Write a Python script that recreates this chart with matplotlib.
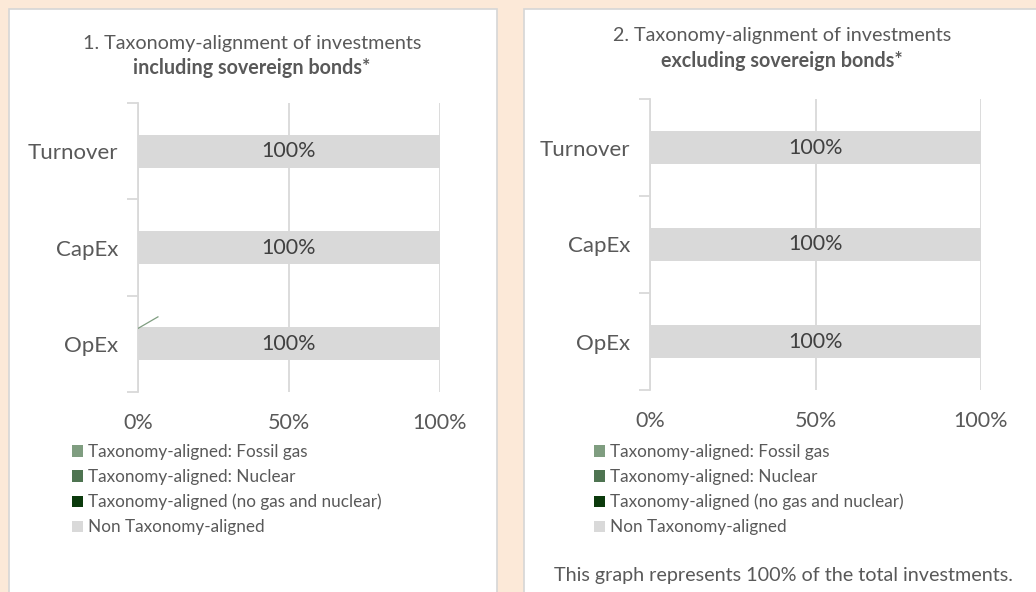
import matplotlib
matplotlib.use("Agg")
import matplotlib.pyplot as plt
from matplotlib.patches import Rectangle, Patch
import numpy as np

plt.rcParams['font.family'] = ['Lato', 'DejaVu Sans']

categories = ["Turnover", "CapEx", "OpEx"]
series_names = ["Taxonomy-aligned: Fossil gas", "Taxonomy-aligned: Nuclear",
                "Taxonomy-aligned (no gas and nuclear)", "Non Taxonomy-aligned"]
series_colors = ["#7F9D80", "#4E7451", "#0B3A0C", "#D9D9D9"]

# chart 1: including sovereign bonds
incl_fossil = [0, 0, 0]
incl_nuclear = [0, 0, 0]
incl_aligned = [0, 0, 0]
incl_non = [100, 100, 100]

# chart 2: excluding sovereign bonds
excl_fossil = [0, 0, 0]
excl_nuclear = [0, 0, 0]
excl_aligned = [0, 0, 0]
excl_non = [100, 100, 100]

x_ticks = [0, 50, 100]
x_ticklabels = ["0%", "50%", "100%"]

W, H = 1036, 592
fig = plt.figure(figsize=(W / 100, H / 100), dpi=100)
fig.patch.set_facecolor("#FCE9D8")

def fx(px):
    return px / W

def fy(py):
    return 1 - py / H

# panel boxes
for (x0, x1) in [(9, 497), (524, 1045)]:
    fig.patches.append(Rectangle((fx(x0), fy(600)), fx(x1) - fx(x0), fy(9) - fy(600),
                                 transform=fig.transFigure, facecolor="white",
                                 edgecolor="#D6D6D6", lw=1.2, zorder=-5))

text_col = "#595959"

def draw_panel(left, right, top, bottom, series, title1, title2, tcx, t1y, t2y,
               tick_y, leg_x, leg_y, leader=False):
    ax = fig.add_axes([fx(left), fy(bottom), fx(right) - fx(left), fy(top) - fy(bottom)])
    ax.set_zorder(2)
    ax.set_facecolor("none")
    ypos = np.arange(len(categories))[::-1]
    lefts = np.zeros(len(categories))
    for vals, col, name in zip(series, series_colors, series_names):
        vals = np.array(vals, dtype=float)
        bars = ax.barh(ypos, vals, left=lefts, height=0.34, color=col, label=name, zorder=2)
        for b, v in zip(bars, vals):
            if v > 0:
                ax.text(b.get_x() + b.get_width() / 2, b.get_y() + b.get_height() / 2,
                        f"{v:.0f}%", ha="center", va="center", fontsize=15.5,
                        color="#404040", zorder=3)
        lefts = lefts + vals
    if leader:
        ax.plot([0, 6.6], [0.16, 0.28], color="#7F9D80", lw=0.9, zorder=3)
    ax.set_xlim(0, 100)
    ax.set_ylim(-0.5, 2.5)
    ax.set_xticks(x_ticks)
    ax.set_xticklabels(x_ticklabels)
    ax.grid(axis="x", color="#D9D9D9", lw=1.3, zorder=0)
    ax.set_axisbelow(True)
    for s in ["top", "right", "bottom"]:
        ax.spines[s].set_visible(False)
    ax.spines["left"].set_color("#D9D9D9")
    ax.spines["left"].set_linewidth(1.3)
    ax.tick_params(axis="x", length=0, labelsize=15.5, labelcolor=text_col, pad=tick_y)
    ax.set_yticks(ypos)
    ax.set_yticklabels(categories)
    ax.tick_params(axis="y", which="major", length=0, labelsize=16, labelcolor=text_col, pad=14)
    ax.set_yticks([-0.5, 0.5, 1.5, 2.5], minor=True)
    ax.tick_params(axis="y", which="minor", length=8, color="#D9D9D9", width=1.3)
    fig.text(fx(tcx), fy(t1y), title1, ha="center", va="center", fontsize=14.2, color=text_col)
    fig.text(fx(tcx), fy(t2y), title2, ha="center", va="center", fontsize=14.2,
             color=text_col, fontweight="bold")
    handles = [Patch(facecolor=c, edgecolor="none") for c in series_colors]
    fig.legend(handles, series_names, loc="upper left",
               bbox_to_anchor=(fx(leg_x), fy(leg_y)), frameon=False, fontsize=12.3,
               handlelength=0.65, handleheight=0.65, handletextpad=0.3,
               labelspacing=0.52, borderaxespad=0, borderpad=0, labelcolor=text_col)
    return ax

draw_panel(138, 440, 103, 392,
           [incl_fossil, incl_nuclear, incl_aligned, incl_non],
           "1. Taxonomy-alignment of investments", "including sovereign bonds*",
           252, 43, 68, 15, 72, 444, leader=True)
draw_panel(650, 981, 99, 390,
           [excl_fossil, excl_nuclear, excl_aligned, excl_non],
           "2. Taxonomy-alignment of investments", "excluding sovereign bonds*",
           782, 35, 61, 15, 594, 444)

fig.text(fx(783), fy(575), "This graph represents 100% of the total investments.",
         ha="center", va="center", fontsize=14.2, color=text_col)

fig.savefig("out.png", dpi=100, facecolor=fig.get_facecolor())
